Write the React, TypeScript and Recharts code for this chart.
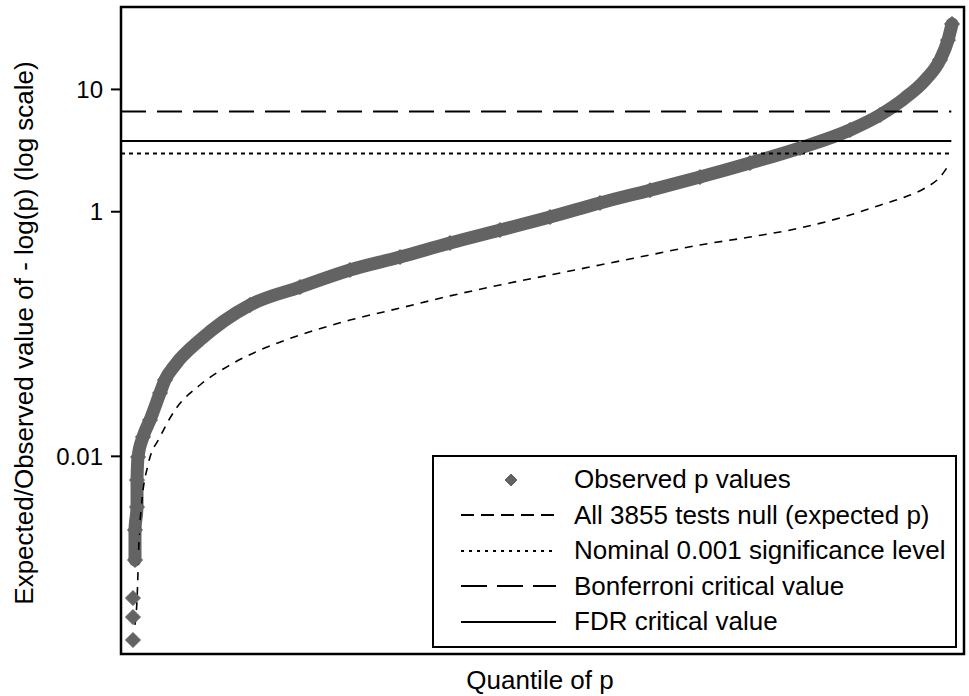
import React from 'react';
import {
    ComposedChart,
    Line,
    Scatter,
    XAxis,
    YAxis,
    ReferenceLine,
    ReferenceArea,
    Legend
} from 'recharts';

// Observed -log(p) values, ordered by quantile of p
const obsQuantile = [
    0.0142, 0.0142, 0.0142, 0.0166, 0.0166, 0.019, 0.019, 0.0202, 0.0261, 0.0344,
    0.0463, 0.0522, 0.0641, 0.0937, 0.153, 0.2123, 0.2716, 0.331, 0.3903, 0.4496,
    0.5089, 0.5682, 0.6275, 0.6868, 0.7461, 0.8055, 0.8648, 0.9004, 0.93, 0.9537,
    0.9715, 0.981, 0.9858
];
const obsValue = [
    0.000315, 0.000485, 0.000694, 0.00142, 0.0025, 0.00385, 0.0064, 0.00987, 0.0144, 0.0198,
    0.0329, 0.0421, 0.0558, 0.0893, 0.173, 0.242, 0.334, 0.426, 0.555, 0.708,
    0.905, 1.18, 1.5, 1.92, 2.5, 3.32, 4.66, 6.18, 8.51, 11.9,
    17.4, 25.3, 34.3
];

// Expected -log(p) if all 3855 tests are null
const expQuantile = [
    0.0166, 0.019, 0.0214, 0.0249, 0.032, 0.0463, 0.0641, 0.0937, 0.1293, 0.1649,
    0.2123, 0.2716, 0.331, 0.3903, 0.4496, 0.5089, 0.5682, 0.6275, 0.6868, 0.7461,
    0.8055, 0.8648, 0.9004, 0.93, 0.9537, 0.9715, 0.9834
];
const expValue = [
    0.000418, 0.000668, 0.00207, 0.00439, 0.00849, 0.0144, 0.0239, 0.0383, 0.0558, 0.074,
    0.0981, 0.13, 0.163, 0.205, 0.252, 0.304, 0.367, 0.443, 0.535, 0.621,
    0.736, 0.94, 1.13, 1.32, 1.56, 1.92, 2.5
];

// horizontal thresholds
const nominalLevel = 3;
const bonferroniLevel = 6.59;
const fdrLevel = 3.79;
const thresholdEnd = 0.985;

const yTicks = [0.01, 1, 10];
const yTickLabels = ['0.01', '1', '10'];
const yDomain = [0.000242, 47.2];

const legendItems = [
    { label: 'Observed p values', kind: 'diamond', dash: '' },
    { label: 'All 3855 tests null (expected p)', kind: 'line', dash: '13 7' },
    { label: 'Nominal 0.001 significance level', kind: 'line', dash: '3 5' },
    { label: 'Bonferroni critical value', kind: 'line', dash: '26 10' },
    { label: 'FDR critical value', kind: 'line', dash: '' },
];

const FONT = '"Liberation Sans", Arial, Helvetica, sans-serif';
const GRAY = '#636363';

const obsData = obsQuantile.map((q, i) => ({ q, v: obsValue[i] }));
const expData = expQuantile.map((q, i) => ({ q, v: expValue[i] }));

const Diamond = (props: any) => {
    const { cx, cy } = props;
    const r = 7.5;
    return (
        <polygon
            points={`${cx},${cy - r} ${cx + r},${cy} ${cx},${cy + r} ${cx - r},${cy}`}
            fill={GRAY}
            stroke={GRAY}
            strokeWidth={1}
            strokeLinejoin="round"
        />
    );
};

const renderLegend = () => (
    <div
        style={{
            width: 521,
            height: 184,
            border: '2px solid #000',
            background: '#fff',
            boxSizing: 'content-box',
            paddingTop: 5,
            fontFamily: FONT,
            fontSize: 26,
            color: '#000',
        }}
    >
        {legendItems.map((item) => (
            <div key={item.label} style={{ display: 'flex', alignItems: 'center', height: 35.5 }}>
                <svg width={140} height={20} style={{ flex: 'none' }}>
                    {item.kind === 'diamond' ? (
                        <polygon points="77,4 83,10 77,16 71,10" fill={GRAY} stroke={GRAY} strokeLinejoin="round" />
                    ) : (
                        <line
                            x1={27}
                            x2={122}
                            y1={10}
                            y2={10}
                            stroke="#000"
                            strokeWidth={item.dash === '3 5' ? 2 : 1.8}
                            strokeDasharray={item.dash || undefined}
                        />
                    )}
                </svg>
                <span style={{ whiteSpace: 'nowrap' }}>{item.label}</span>
            </div>
        ))}
    </div>
);

const XTitle = () => (
    <text x={540} y={689} textAnchor="middle" fontFamily={FONT} fontSize={26} fill="#000">
        Quantile of p
    </text>
);

const YTitle = () => (
    <text
        transform="translate(33,333) rotate(-90)"
        textAnchor="middle"
        fontFamily={FONT}
        fontSize={26}
        fill="#000"
    >
        Expected/Observed value of - log(p) (log scale)
    </text>
);

export default function App() {
    return (
        <div style={{ position: 'absolute', left: 0, top: 0, width: 969, height: 696, background: '#fff' }}>
            <ComposedChart
                width={969}
                height={696}
                margin={{ top: 7, right: 5, bottom: 0, left: 0 }}
            >
                <XAxis
                    type="number"
                    dataKey="q"
                    domain={[0, 1]}
                    tick={false}
                    tickLine={false}
                    axisLine={false}
                    height={42}
                    label={{ content: XTitle }}
                />
                <YAxis
                    type="number"
                    scale="log"
                    domain={yDomain}
                    allowDataOverflow
                    ticks={yTicks}
                    tickFormatter={(v: number) => yTickLabels[yTicks.indexOf(v)] ?? String(v)}
                    width={121}
                    tickSize={10}
                    tickMargin={8}
                    axisLine={false}
                    tickLine={{ stroke: '#000', strokeWidth: 2 }}
                    tick={{ fontSize: 24, fill: '#000', fontFamily: FONT }}
                    label={{ content: YTitle }}
                />

                <Line
                    data={obsData.slice(3)}
                    dataKey="v"
                    type="monotone"
                    stroke={GRAY}
                    strokeWidth={13}
                    strokeLinecap="round"
                    strokeLinejoin="round"
                    dot={false}
                    activeDot={false}
                    isAnimationActive={false}
                />
                <Scatter
                    data={obsData}
                    dataKey="v"
                    shape={Diamond}
                    isAnimationActive={false}
                />
                <Line
                    data={expData}
                    dataKey="v"
                    type="monotone"
                    stroke="#000"
                    strokeWidth={1.6}
                    strokeDasharray="8 7"
                    dot={false}
                    activeDot={false}
                    isAnimationActive={false}
                />

                <ReferenceLine
                    segment={[{ x: 0, y: bonferroniLevel }, { x: thresholdEnd, y: bonferroniLevel }]}
                    stroke="#000"
                    strokeWidth={2}
                    strokeDasharray="25 11"
                />
                <ReferenceLine
                    segment={[{ x: 0, y: fdrLevel }, { x: thresholdEnd, y: fdrLevel }]}
                    stroke="#000"
                    strokeWidth={2}
                />
                <ReferenceLine
                    segment={[{ x: 0, y: nominalLevel }, { x: thresholdEnd, y: nominalLevel }]}
                    stroke="#000"
                    strokeWidth={2}
                    strokeDasharray="4 4"
                />

                <ReferenceArea
                    x1={0}
                    x2={1}
                    y1={yDomain[0]}
                    y2={yDomain[1]}
                    fill="none"
                    fillOpacity={0}
                    stroke="#000"
                    strokeWidth={2.5}
                />

                <Legend
                    layout="vertical"
                    align="center"
                    verticalAlign="middle"
                    content={renderLegend}
                    wrapperStyle={{ left: 432, top: 455, width: 525, height: 191 }}
                />
            </ComposedChart>
        </div>
    );
}
